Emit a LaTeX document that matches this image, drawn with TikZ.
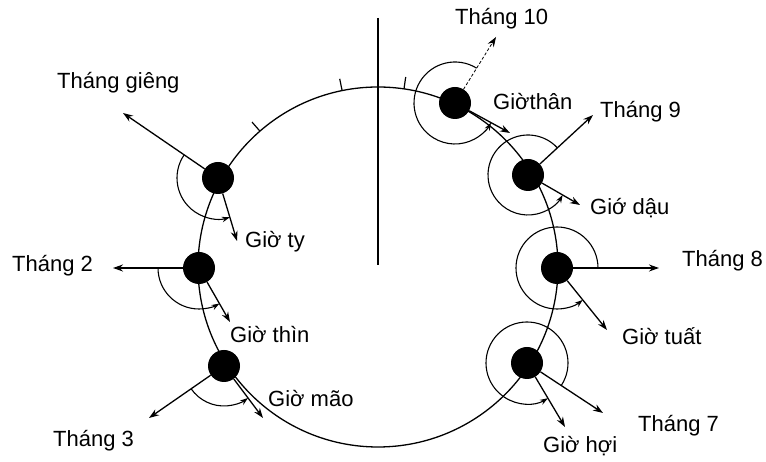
\documentclass[tikz,border=0pt]{standalone}
\usepackage{fontspec}
\setmainfont{Liberation Sans}
\usetikzlibrary{arrows.meta}
\begin{document}
\begin{tikzpicture}[x=1pt,y=1pt,
  orbit/.style={line width=1.3pt},
  axisline/.style={line width=2pt},
  tickmark/.style={line width=1.2pt},
  body/.style={circle,fill=black,minimum size=32pt,inner sep=0pt},
  ray/.style={line width=1.3pt,-{Stealth[length=10pt,width=7pt]}},
  turn/.style={line width=1.1pt,-{Stealth[length=8pt,width=5.5pt]}},
  lbl/.style={inner sep=0pt,anchor=base west,font=\fontsize{22}{24}\selectfont}]
\useasboundingbox (0,0) rectangle (766,462);

% orbit and the vertical reference line
\coordinate (C) at (378,195);
\draw[orbit] (C) circle[radius=180];
\coordinate (ax1) at (378,444);
\coordinate (ax2) at (378,197);
\draw[axisline] (ax1) -- (ax2);

% small marks on the orbit
\foreach \a in {81.7,101.5,131} \draw[tickmark] (C) ++(\a:180) -- ++(\a:12);

% bodies on the orbit
\node[body] (n1) at (218,284) {};
\node[body] (n2) at (199,194) {};
\node[body] (n3) at (224,96) {};
\node[body] (n4) at (455,359) {};
\node[body] (n5) at (528,287) {};
\node[body] (n6) at (557,194) {};
\node[body] (n7) at (527,99) {};

% month directions
\coordinate (m1) at (123,349);
\coordinate (m2) at (113,194);
\coordinate (m3) at (149,44);
\coordinate (m4) at (496,425);
\coordinate (m5) at (593,347);
\coordinate (m6) at (659,194);
\coordinate (m7) at (603,49);
% hour directions
\coordinate (h1) at (237,221);
\coordinate (h2) at (230,140);
\coordinate (h3) at (263,44);
\coordinate (h4) at (510,329);
\coordinate (h5) at (580,257);
\coordinate (h6) at (607,132);
\coordinate (h7) at (565,35);

\draw[ray] (n1) -- (m1);
\draw[ray] (n2) -- (m2);
\draw[ray] (n3) -- (m3);
\draw[ray,line width=0.8pt,densely dashed] (n4) -- (m4);
\draw[ray] (n5) -- (m5);
\draw[ray] (n6) -- (m6);
\draw[ray] (n7) -- (m7);

\draw[ray] (n1) -- (h1);
\draw[ray] (n2) -- (h2);
\draw[ray] (n3) -- (h3);
\draw[ray] (n4) -- (h4);
\draw[ray] (n5) -- (h5);
\draw[ray] (n6) -- (h6);
\draw[ray] (n7) -- (h7);

% turning arcs from month direction to hour direction
\draw[turn] (n1.center) ++(145.6:41) arc[start angle=145.6,end angle=286.8,radius=41];
\draw[turn] (n2.center) ++(180:41) arc[start angle=180,end angle=299.9,radius=41];
\draw[turn] (n3.center) ++(214.7:40) arc[start angle=214.7,end angle=306.9,radius=40];
\draw[turn] (n4.center) ++(58.2:41) arc[start angle=58.2,end angle=331.4,radius=41];
\draw[turn] (n5.center) ++(42.7:40) arc[start angle=42.7,end angle=330,radius=40];
\draw[turn] (n6.center) ++(0:41) arc[start angle=0,end angle=308.9,radius=41];
\draw[turn] (n7.center) ++(326.7:41) arc[start angle=326.7,end angle=660.7,radius=41];

% labels
\node[lbl] (t1) at (57,373) {Tháng giêng};
\node[lbl] (t2) at (12,190) {Tháng 2};
\node[lbl] (t3) at (53,15) {Tháng 3};
\node[lbl] (t4) at (455,437) {Tháng 10};
\node[lbl] (t5) at (600,344) {Tháng 9};
\node[lbl] (t6) at (682,195) {Tháng 8};
\node[lbl] (t7) at (638,30) {Tháng 7};
\node[lbl] (g1) at (245,214) {Giờ ty};
\node[lbl] (g2) at (230,119) {Giờ thìn};
\node[lbl] (g3) at (268,55) {Giờ mão};
\node[lbl] (g4) at (493,352) {Giờthân};
\node[lbl] (g5) at (590,247) {Giớ dậu};
\node[lbl] (g6) at (622,117) {Giờ tuất};
\node[lbl] (g7) at (543,9) {Giờ hợi};
\end{tikzpicture}
\end{document}
